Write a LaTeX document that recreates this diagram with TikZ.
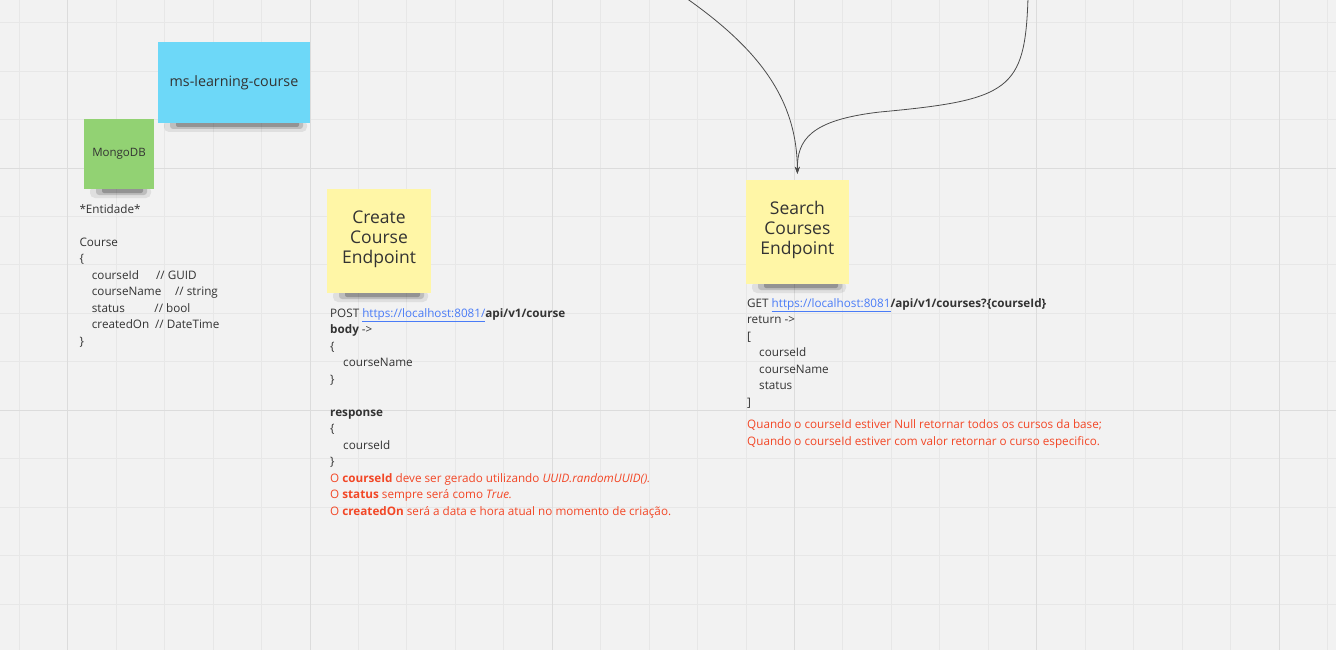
\documentclass[tikz,border=0pt]{standalone}
\usepackage{fontspec}
\setmainfont{Open Sans}
\usetikzlibrary{arrows.meta}
\definecolor{bg}{HTML}{F2F2F2}
\definecolor{gridc}{HTML}{E7E7E7}
\definecolor{gridd}{HTML}{DCDCDC}
\definecolor{txt}{HTML}{333333}
\definecolor{redc}{HTML}{F24726}
\definecolor{linkc}{HTML}{4A7CF7}
\definecolor{noteblue}{HTML}{6DD8F8}
\definecolor{notegreen}{HTML}{92D273}
\definecolor{noteyellow}{HTML}{FFF6A6}
\newcommand\mynoteshadow[3]{%
  \fill[black, opacity=0.08, rounded corners=5pt] (#1+6,#3-3) rectangle (#2-3,#3+9);
  \fill[black, opacity=0.15, rounded corners=3pt] (#1+12,#3-3) rectangle (#2-7,#3+6);
  \fill[black, opacity=0.22, rounded corners=2pt] (#1+18,#3-3) rectangle (#2-11,#3+4);
}
\begin{document}
\begin{tikzpicture}[x=1pt,y=-1pt,
  note/.style={inner sep=0pt, text=txt, align=center},
  body/.style={inner sep=0pt, anchor=base west, align=left, text=txt, font=\fontsize{11.7}{16.5}\selectfont},
  conn/.style={draw=black!70, line width=0.8pt, -{Stealth[length=7pt,width=5pt]}}]
\fill[bg] (0,0) rectangle (1336,650);
\useasboundingbox (0,0) rectangle (1336,650);
% grid
\foreach \i in {0,...,27} { \draw[gridc, line width=1pt] ({19.3+48.45*\i},0) -- ++(0,650); }
\foreach \i in {0,...,13} { \draw[gridc, line width=1pt] (0,{22.7+48.45*\i}) -- ++(1336,0); }
\foreach \i in {1,6,11,16,21,26} { \draw[gridd, line width=1pt] ({19.3+48.45*\i},0) -- ++(0,650); }
\foreach \i in {3,8} { \draw[gridd, line width=1pt] (0,{22.7+48.45*\i}) -- ++(1336,0); }

% sticky notes
\mynoteshadow{158}{310}{123}
\node[note, fill=noteblue, minimum width=152pt, minimum height=81pt, font=\fontsize{14.3}{18}\selectfont] (ms) at (234,82.5) {ms-learning-course};
\mynoteshadow{84}{154}{189}
\node[note, fill=notegreen, minimum width=70pt, minimum height=70pt, font=\fontsize{11.5}{14}\selectfont] (mongo) at (119,154) {MongoDB};
\mynoteshadow{327}{431}{293}
\node[note, fill=noteyellow, minimum width=103.5pt, minimum height=103.5pt, text depth=8.3pt, font=\fontsize{17.5}{20}\selectfont] (create) at (379,241) {Create\\Course\\Endpoint};
\mynoteshadow{746}{849}{284}
\node[note, fill=noteyellow, minimum width=103.5pt, minimum height=104pt, text depth=8.3pt, font=\fontsize{17.5}{20}\selectfont] (search) at (797.4,232) {Search\\Courses\\Endpoint};

% texts (anchored at the baseline of their last line)
\node[body] (entity) at (79.3,345) {*Entidade*\\[16.5pt]
Course\\
\{\\
\hspace*{12.4pt}\makebox[64.3pt][l]{courseId}// GUID\\
\hspace*{12.4pt}\makebox[83.3pt][l]{courseName}// string\\
\hspace*{12.4pt}\makebox[62.6pt][l]{status}// bool\\
\hspace*{12.4pt}\makebox[63.3pt][l]{createdOn}// DateTime\\
\}};

\node[body] (createtxt) at (330,515) {POST \textcolor{linkc}{\underline{https://localhost:8081/}}\textbf{api/v1/course}\\
\textbf{body} ->\\
\{\\
\hspace*{13pt}courseName\\
\}\\[16.5pt]
\textbf{response}\\
\{\\
\hspace*{13pt}courseId\\
\}\\
\textcolor{redc}{O \textbf{courseId} deve ser gerado utilizando \textit{UUID.randomUUID().}}\\
\textcolor{redc}{O \textbf{status} sempre será como \textit{True.}}\\
\textcolor{redc}{O \textbf{createdOn} será a data e hora atual no momento de criação.}};

\node[body] (searchtxt) at (747,406) {GET \textcolor{linkc}{\underline{https://localhost:8081}}\textbf{/api/v1/courses?\{courseId\}}\\
return ->\\
{[}\\
\hspace*{12pt}courseId\\
\hspace*{12pt}courseName\\
\hspace*{12pt}status\\
{]}};

\node[body, text=redc, font=\fontsize{11.7}{17}\selectfont] (searchnote) at (747,445) {Quando o courseId estiver Null retornar todos os cursos da base;\\
Quando o courseId estiver com valor retornar o curso especifico.};

% connectors
\coordinate (srcA) at (686,-2);
\coordinate (srcB) at (1028,-2);
\draw[conn] (srcA) .. controls (760,50) and (797,100) .. ([yshift=6pt]search.north);
\draw[conn] (srcB) .. controls (1025,90) and (1010,100) .. (880,112) .. controls (810,120) and (797,140) .. ([yshift=6pt]search.north);
\end{tikzpicture}
\end{document}
